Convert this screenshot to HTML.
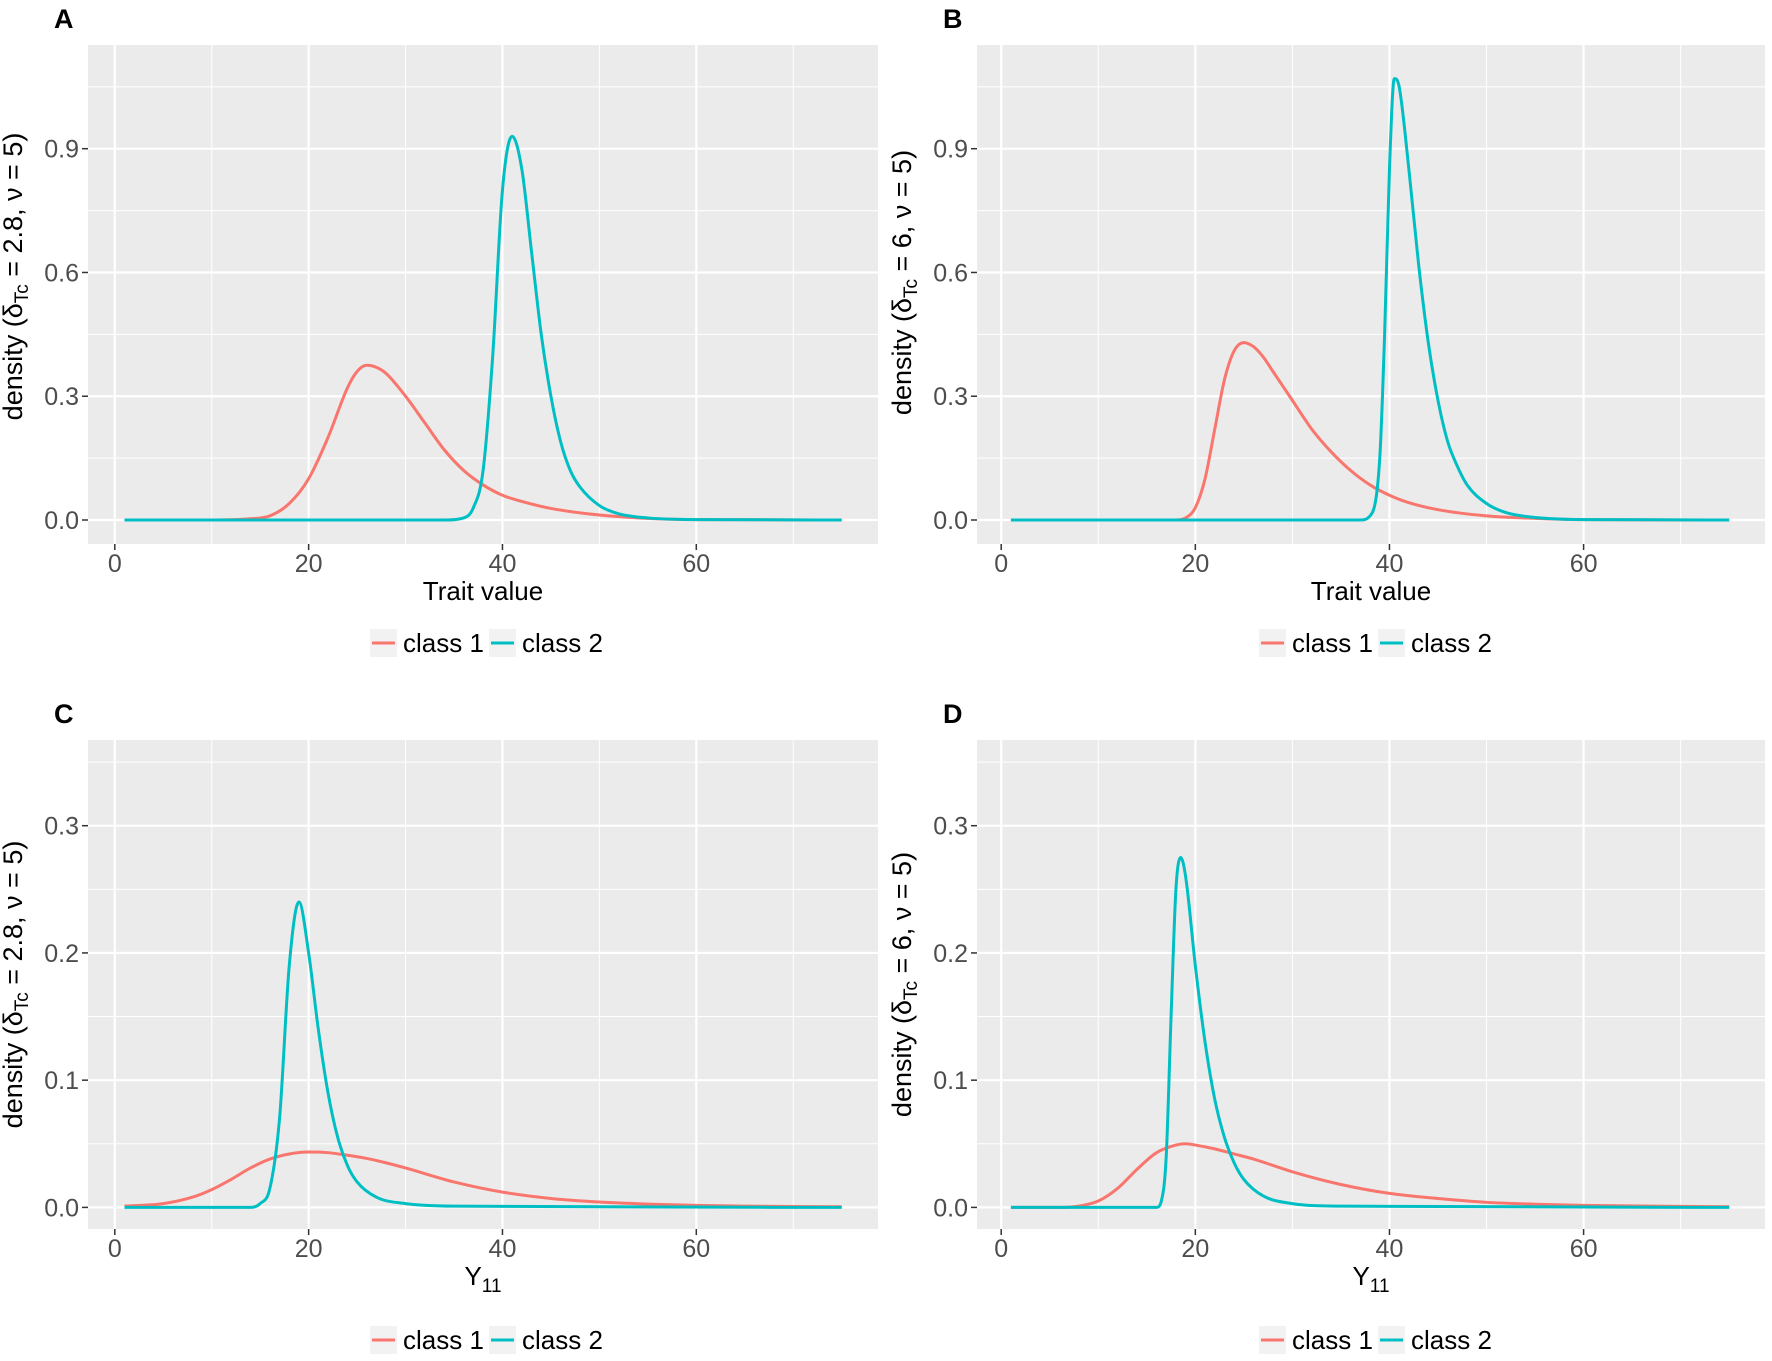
<!DOCTYPE html>
<html><head><meta charset="utf-8"><style>
html,body{margin:0;padding:0;background:#fff;}
svg{display:block;font-family:"Liberation Sans",sans-serif;}
</style></head><body>
<svg id="fig" width="1772" height="1361" viewBox="0 0 1772 1361" xmlns="http://www.w3.org/2000/svg"></svg>
<script>
// ---- data ----
const aRedX=[1,10,14,16,18,20,22,24,25,26,27,28,30,32,34,36,38,40,42,45,50,55,60,75];
const aRedY=[0,0,0.003,0.01,0.04,0.10,0.20,0.32,0.36,0.375,0.37,0.355,0.30,0.235,0.17,0.12,0.085,0.06,0.045,0.028,0.012,0.004,0.001,0];
const aBlueX=[1,34,36,37,38,39,40,41,42,43,44,45,46,47,48,50,52,55,60,75];
const aBlueY=[0,0,0.005,0.03,0.12,0.40,0.80,0.93,0.85,0.65,0.45,0.30,0.19,0.12,0.08,0.035,0.015,0.005,0.001,0];
const bRedX=[1,18,19,20,21,22,23,24,25,26,27,28,30,32,34,36,38,40,42,45,50,55,60,75];
const bRedY=[0,0,0.005,0.03,0.10,0.22,0.34,0.41,0.43,0.42,0.395,0.36,0.29,0.22,0.165,0.12,0.085,0.06,0.042,0.025,0.01,0.004,0.001,0];
const bBlueX=[1,37,38,39,39.5,40,40.5,41,42,43,44,45,46,47,48,50,52,55,60,75];
const bBlueY=[0,0,0.01,0.15,0.45,0.85,1.07,1.05,0.85,0.62,0.43,0.29,0.19,0.13,0.085,0.04,0.018,0.006,0.001,0];
const cRedX=[1,5,8,10,12,14,16,18,20,22,24,26,28,30,35,40,45,50,55,60,65,75];
const cRedY=[0.001,0.003,0.008,0.014,0.022,0.031,0.038,0.042,0.0435,0.043,0.041,0.0385,0.035,0.031,0.02,0.012,0.007,0.0042,0.0026,0.0016,0.001,0.0005];
const cBlueX=[1,14,15,16,17,18,19,20,21,22,23,24,25,27,30,35,75];
const cBlueY=[0,0,0.003,0.015,0.07,0.19,0.24,0.20,0.14,0.09,0.055,0.033,0.02,0.008,0.003,0.001,0];
const dRedX=[1,6,8,10,12,14,16,18,19,20,22,24,26,28,30,35,40,45,50,55,60,75];
const dRedY=[0,0,0.001,0.005,0.015,0.03,0.043,0.049,0.05,0.049,0.046,0.042,0.038,0.033,0.028,0.018,0.011,0.007,0.004,0.0025,0.0016,0.0005];
const dBlueX=[1,16,16.5,17,17.5,18,18.5,19,20,21,22,23,24,25,27,30,35,75];
const dBlueY=[0,0,0.005,0.04,0.15,0.25,0.275,0.26,0.19,0.13,0.085,0.055,0.035,0.022,0.009,0.003,0.001,0];
const xTicks=[0,20,40,60];
const topYTicks=[0,0.3,0.6,0.9];
const botYTicks=[0,0.1,0.2,0.3];
const legendLabels=["class 1","class 2"];

const NS="http://www.w3.org/2000/svg";
const svg=document.getElementById('fig');
function el(tag,attrs,parent,text){const e=document.createElementNS(NS,tag);for(const k in attrs)e.setAttribute(k,attrs[k]);if(text!==undefined)e.textContent=text;(parent||svg).appendChild(e);return e;}

function monotonePath(px,py){
  const n=px.length;const d=[],m=new Array(n);
  for(let i=0;i<n-1;i++)d.push((py[i+1]-py[i])/(px[i+1]-px[i]));
  m[0]=d[0];m[n-1]=d[n-2];
  for(let i=1;i<n-1;i++){m[i]=(d[i-1]*d[i]<=0)?0:(d[i-1]+d[i])/2;}
  for(let i=0;i<n-1;i++){if(d[i]===0){m[i]=0;m[i+1]=0;continue;}const a=m[i]/d[i],b=m[i+1]/d[i];const s=a*a+b*b;if(s>9){const t=3/Math.sqrt(s);m[i]=t*a*d[i];m[i+1]=t*b*d[i];}}
  let p=`M${px[0]},${py[0]}`;
  for(let i=0;i<n-1;i++){const h=(px[i+1]-px[i])/3;p+=`C${px[i]+h},${py[i]+m[i]*h} ${px[i+1]-h},${py[i+1]-m[i+1]*h} ${px[i+1]},${py[i+1]}`;}
  return p;
}

function panel(cfg){
  const g=el('g',{});
  
  
  const {L,R,T,B,x0px,x60px,y0px,yTopTickPx,yTicks}=cfg;
  const xs=v=>x0px+(v/60)*(x60px-x0px);
  const yTopVal=yTicks[3];
  const ys=v=>y0px-(v/yTopVal)*(y0px-yTopTickPx);
  const lbl=el('text',{x:cfg.lx,y:cfg.ly,'font-size':27,'font-weight':'bold',fill:'#000'},g,cfg.letter);
  
  const bg=el('rect',{x:L,y:T,width:R-L,height:B-T,fill:'#EBEBEB'},g);
  
  [10,30,50,70].forEach(v=>el('line',{x1:xs(v),x2:xs(v),y1:T,y2:B,stroke:'#fff','stroke-width':1},g));
  const step=yTicks[1];
  for(let v=step/2;ys(v)>T;v+=step){el('line',{x1:L,x2:R,y1:ys(v),y2:ys(v),stroke:'#fff','stroke-width':1},g);}
  xTicks.forEach(v=>el('line',{x1:xs(v),x2:xs(v),y1:T,y2:B,stroke:'#fff','stroke-width':2.2},g));
  yTicks.forEach(v=>el('line',{x1:L,x2:R,y1:ys(v),y2:ys(v),stroke:'#fff','stroke-width':2.2},g));
  xTicks.forEach(v=>{el('line',{x1:xs(v),x2:xs(v),y1:B,y2:B+6,stroke:'#333','stroke-width':1.5},g);
    const t=el('text',{x:xs(v),y:B+28,'font-size':25,'text-anchor':'middle',fill:'#4D4D4D'},g,String(v));
    });
  yTicks.forEach(v=>{el('line',{x1:L-6,x2:L,y1:ys(v),y2:ys(v),stroke:'#333','stroke-width':1.5},g);
    const t=el('text',{x:L-9,y:ys(v)+9,'font-size':25,'text-anchor':'end',fill:'#4D4D4D'},g,v.toFixed(1));
    });
  const series=[[cfg.redX,cfg.redY,'#F8766D','class-1-curve'],[cfg.blueX,cfg.blueY,'#00BFC4','class-2-curve']];
  series.forEach(s=>{const p=el('path',{d:monotonePath(s[0].map(xs),s[1].map(ys)),fill:'none',stroke:s[2],'stroke-width':3,'stroke-linejoin':'round'},g);
    });
  const xt=el('text',{x:(L+R)/2,y:B+56,'font-size':26,'text-anchor':'middle',fill:'#000'},g);
  
  if(cfg.xtitle==='trait'){xt.textContent='Trait value';}
  else{el('tspan',{},xt,'Y');el('tspan',{'font-size':19,dy:7},xt,'11');}
  const yt=el('text',{transform:`translate(${L-66},${(T+B)/2+cfg.ytOff}) rotate(-90)`,'font-size':27,'text-anchor':'middle',fill:'#000'},g);
  
  el('tspan',{},yt,'density (δ');el('tspan',{'font-size':19,dy:6},yt,'Tc');el('tspan',{dy:-6},yt,' = '+cfg.delta+', ν = 5)');
  const ly=cfg.legY;const lx=L+282;
  const lg=el('g',{},g);
  [['#F8766D',0],['#00BFC4',119]].forEach((c,i)=>{
    const kx=lx+c[1];
    const k=el('rect',{x:kx,y:ly-14,width:27,height:28,fill:'#F2F2F2'},lg);
    
    el('line',{x1:kx+2,x2:kx+25,y1:ly,y2:ly,stroke:c[0],'stroke-width':3},lg);
    const t=el('text',{x:kx+33,y:ly+9,'font-size':26,fill:'#000'},lg,legendLabels[i]);
    
  });
}

const colL={L:88,R:878,x0px:114.8,x60px:696.3,lx:54};
const colR={L:977,R:1765,x0px:1001.2,x60px:1583.6,lx:943};
const rowT={T:45,B:544,y0px:520,yTopTickPx:148.7,yTicks:topYTicks,ly:28,legY:643,xtitle:'trait'};
const rowB={T:740,B:1229,y0px:1207.4,yTopTickPx:825.7,yTicks:botYTicks,ly:723,legY:1340,xtitle:'y'};
panel(Object.assign({},colL,rowT,{letter:'A',delta:'2.8',ytOff:-18,redX:aRedX,redY:aRedY,blueX:aBlueX,blueY:aBlueY}));
panel(Object.assign({},colR,rowT,{letter:'B',delta:'6',ytOff:-12,redX:bRedX,redY:bRedY,blueX:bBlueX,blueY:bBlueY}));
panel(Object.assign({},colL,rowB,{letter:'C',delta:'2.8',ytOff:0,redX:cRedX,redY:cRedY,blueX:cBlueX,blueY:cBlueY}));
panel(Object.assign({},colR,rowB,{letter:'D',delta:'6',ytOff:0,redX:dRedX,redY:dRedY,blueX:dBlueX,blueY:dBlueY}));
</script>
</body></html>
